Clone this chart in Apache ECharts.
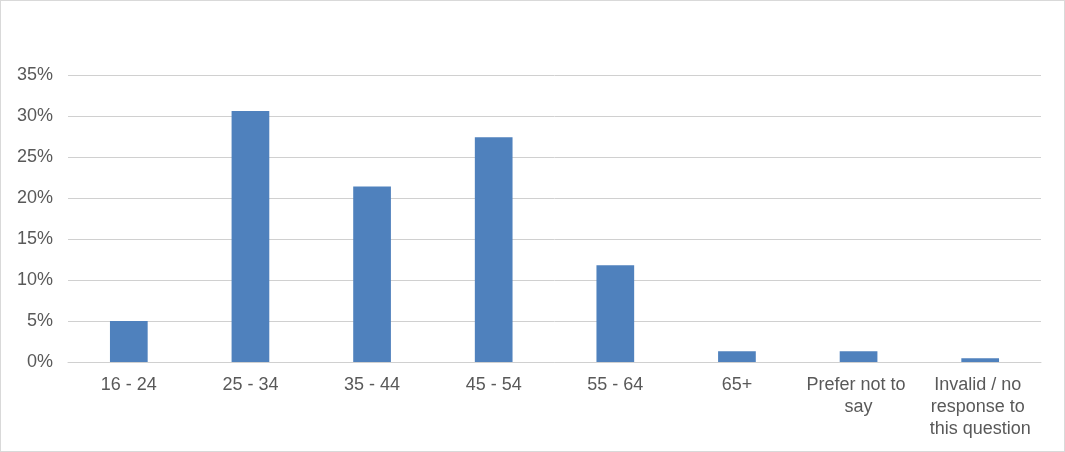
<!DOCTYPE html>
<html>
<head>
<meta charset="utf-8">
<script src="https://cdn.jsdelivr.net/npm/echarts@6/dist/echarts.min.js"></script>
<style>
  html, body { margin: 0; padding: 0; background: #fff; }
  #chart { width: 1065px; height: 452px; box-sizing: border-box; border: 1px solid #d9d9d9; }
</style>
</head>
<body>
<div id="chart"></div>
<script>
const categories = ['16 - 24', '25 - 34', '35 - 44', '45 - 54', '55 - 64', '65+', 'Prefer not to say', 'Invalid / no response to this question']
const shares = [5.0, 30.6, 21.4, 27.4, 11.8, 1.3, 1.3, 0.45]
const yTicks = { min: 0, max: 35, interval: 5 }

const chart = echarts.init(document.getElementById('chart'))

const option = {
  animation: false,
  grid: {
    top: 74,
    left: 67,
    right: 23,
    bottom: 89
  },
  xAxis: {
    type: 'category',
    data: categories,
    axisLine: { lineStyle: { color: '#d0d0d0', width: 1 } },
    axisTick: { show: false },
    axisLabel: {
      color: '#595959',
      fontFamily: 'Liberation Sans, Arial, sans-serif',
      fontSize: 18,
      lineHeight: 22,
      margin: 12,
      interval: 0,
      width: 116,
      overflow: 'break'
    }
  },
  yAxis: {
    type: 'value',
    min: yTicks.min,
    max: yTicks.max,
    interval: yTicks.interval,
    axisLine: { show: false },
    axisTick: { show: false },
    splitLine: { lineStyle: { color: '#d0d0d0', width: 1 } },
    axisLabel: {
      color: '#595959',
      fontFamily: 'Liberation Sans, Arial, sans-serif',
      fontSize: 18,
      margin: 15,
      formatter: '{value}%'
    }
  },
  series: [
    {
      type: 'bar',
      data: shares,
      barWidth: '31%',
      itemStyle: { color: '#4f81bd' }
    }
  ]
}

chart.setOption(option)
</script>
</body>
</html>
